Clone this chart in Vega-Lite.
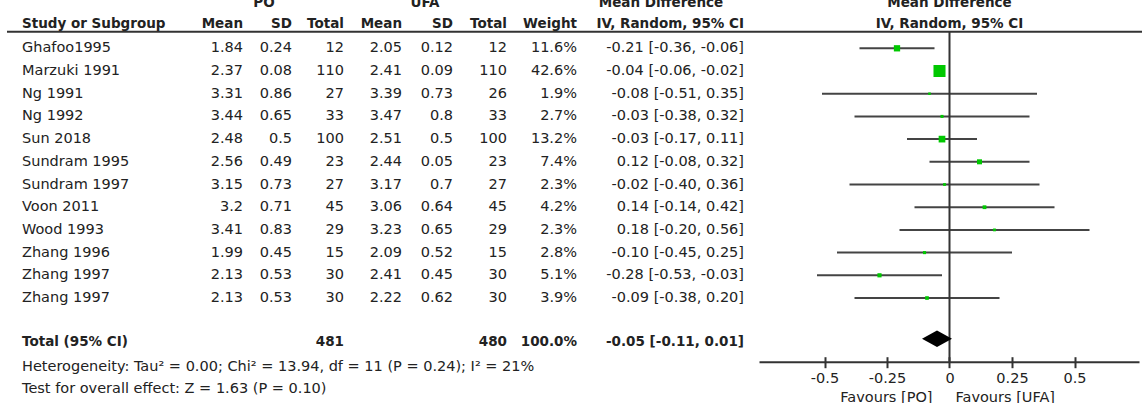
{
  "$schema": "https://vega.github.io/schema/vega-lite/v6.json",
  "padding": {"left": 6, "top": 0, "right": 0, "bottom": 0},
  "autosize": {"type": "pad"},
  "bounds": "flush",
  "spacing": 0,
  "background": "white",
  "config": {
    "font": "DejaVu Sans",
    "view": {"stroke": null},
    "text": {"font": "DejaVu Sans", "fontSize": 14.5, "color": "#222"}
  },
  "datasets": {
    "studies": [
      {"id": 1, "study": "Ghafoo1995", "m1": 1.84, "sd1": 0.24, "n1": 12, "m2": 2.05, "sd2": 0.12, "n2": 12, "w": 0.116, "md": -0.21, "lo": -0.36, "hi": -0.06, "ci": "-0.21 [-0.36, -0.06]"},
      {"id": 2, "study": "Marzuki 1991", "m1": 2.37, "sd1": 0.08, "n1": 110, "m2": 2.41, "sd2": 0.09, "n2": 110, "w": 0.426, "md": -0.04, "lo": -0.06, "hi": -0.02, "ci": "-0.04 [-0.06, -0.02]"},
      {"id": 3, "study": "Ng 1991", "m1": 3.31, "sd1": 0.86, "n1": 27, "m2": 3.39, "sd2": 0.73, "n2": 26, "w": 0.019, "md": -0.08, "lo": -0.51, "hi": 0.35, "ci": "-0.08 [-0.51, 0.35]"},
      {"id": 4, "study": "Ng 1992", "m1": 3.44, "sd1": 0.65, "n1": 33, "m2": 3.47, "sd2": 0.8, "n2": 33, "w": 0.027, "md": -0.03, "lo": -0.38, "hi": 0.32, "ci": "-0.03 [-0.38, 0.32]"},
      {"id": 5, "study": "Sun 2018", "m1": 2.48, "sd1": 0.5, "n1": 100, "m2": 2.51, "sd2": 0.5, "n2": 100, "w": 0.132, "md": -0.03, "lo": -0.17, "hi": 0.11, "ci": "-0.03 [-0.17, 0.11]"},
      {"id": 6, "study": "Sundram 1995", "m1": 2.56, "sd1": 0.49, "n1": 23, "m2": 2.44, "sd2": 0.05, "n2": 23, "w": 0.074, "md": 0.12, "lo": -0.08, "hi": 0.32, "ci": "0.12 [-0.08, 0.32]"},
      {"id": 7, "study": "Sundram 1997", "m1": 3.15, "sd1": 0.73, "n1": 27, "m2": 3.17, "sd2": 0.7, "n2": 27, "w": 0.023, "md": -0.02, "lo": -0.40, "hi": 0.36, "ci": "-0.02 [-0.40, 0.36]"},
      {"id": 8, "study": "Voon 2011", "m1": 3.2, "sd1": 0.71, "n1": 45, "m2": 3.06, "sd2": 0.64, "n2": 45, "w": 0.042, "md": 0.14, "lo": -0.14, "hi": 0.42, "ci": "0.14 [-0.14, 0.42]"},
      {"id": 9, "study": "Wood 1993", "m1": 3.41, "sd1": 0.83, "n1": 29, "m2": 3.23, "sd2": 0.65, "n2": 29, "w": 0.023, "md": 0.18, "lo": -0.20, "hi": 0.56, "ci": "0.18 [-0.20, 0.56]"},
      {"id": 10, "study": "Zhang 1996", "m1": 1.99, "sd1": 0.45, "n1": 15, "m2": 2.09, "sd2": 0.52, "n2": 15, "w": 0.028, "md": -0.10, "lo": -0.45, "hi": 0.25, "ci": "-0.10 [-0.45, 0.25]"},
      {"id": 11, "study": "Zhang 1997", "m1": 2.13, "sd1": 0.53, "n1": 30, "m2": 2.41, "sd2": 0.45, "n2": 30, "w": 0.051, "md": -0.28, "lo": -0.53, "hi": -0.03, "ci": "-0.28 [-0.53, -0.03]"},
      {"id": 12, "study": "Zhang 1997", "m1": 2.13, "sd1": 0.53, "n1": 30, "m2": 2.22, "sd2": 0.62, "n2": 30, "w": 0.039, "md": -0.09, "lo": -0.38, "hi": 0.20, "ci": "-0.09 [-0.38, 0.20]"}
    ],
    "total": [
      {"label": "Total (95% CI)", "n1": 481, "n2": 480, "w": 1.0, "md": -0.05, "lo": -0.11, "hi": 0.01, "ci": "-0.05 [-0.11, 0.01]"}
    ]
  },
  "hconcat": [
    {
      "width": 195, "height": 403,
      "layer": [
        {"data": {"name": "studies"}, "mark": {"type": "text", "align": "left", "baseline": "middle", "dx": 15},
         "encoding": {"x": {"value": 0}, "y": {"field": "id", "type": "quantitative", "scale": {"domain": [-1.128, 16.625], "reverse": true, "nice": false, "zero": false}, "axis": null}, "text": {"field": "study", "type": "nominal"}}},
        {"data": {"values": [{}]}, "mark": {"type": "text", "align": "left", "baseline": "middle", "dx": 15, "fontWeight": "bold", "fontSize": 13.5},
         "encoding": {"x": {"value": 0}, "y": {"datum": -0.07, "type": "quantitative", "axis": null}, "text": {"value": "Study or Subgroup"}}},
        {"data": {"values": [{}]}, "mark": {"type": "rule", "color": "#333", "strokeWidth": 2},
         "encoding": {"y": {"datum": 0.27, "type": "quantitative", "axis": null}}},
        {"data": {"name": "total"}, "mark": {"type": "text", "align": "left", "baseline": "middle", "dx": 15, "fontWeight": "bold", "fontSize": 13.5},
         "encoding": {"x": {"value": 0}, "y": {"datum": 13.93, "type": "quantitative", "axis": null}, "text": {"field": "label", "type": "nominal"}}},
        {"data": {"values": [{}]}, "mark": {"type": "text", "align": "left", "baseline": "middle", "dx": 15},
         "encoding": {"x": {"value": 0}, "y": {"datum": 15.05, "type": "quantitative", "axis": null}, "text": {"value": "Heterogeneity: Tau² = 0.00; Chi² = 13.94, df = 11 (P = 0.24); I² = 21%"}}},
        {"data": {"values": [{}]}, "mark": {"type": "text", "align": "left", "baseline": "middle", "dx": 15},
         "encoding": {"x": {"value": 0}, "y": {"datum": 16.02, "type": "quantitative", "axis": null}, "text": {"value": "Test for overall effect: Z = 1.63 (P = 0.10)"}}}
      ]
    },
    {
      "width": 41, "height": 403,
      "layer": [
        {"data": {"name": "studies"}, "mark": {"type": "text", "align": "right", "baseline": "middle"},
         "encoding": {"x": {"value": "width"}, "y": {"field": "id", "type": "quantitative", "scale": {"domain": [-1.128, 16.625], "reverse": true, "nice": false, "zero": false}, "axis": null}, "text": {"field": "m1", "type": "nominal"}}},
        {"data": {"values": [{}]}, "mark": {"type": "text", "align": "right", "baseline": "middle", "fontWeight": "bold", "fontSize": 13.5},
         "encoding": {"x": {"value": "width"}, "y": {"datum": -0.07, "type": "quantitative", "axis": null}, "text": {"value": "Mean"}}},
        {"data": {"values": [{}]}, "mark": {"type": "rule", "color": "#333", "strokeWidth": 2},
         "encoding": {"y": {"datum": 0.27, "type": "quantitative", "axis": null}}}
      ]
    },
    {
      "width": 49, "height": 403,
      "layer": [
        {"data": {"name": "studies"}, "mark": {"type": "text", "align": "right", "baseline": "middle"},
         "encoding": {"x": {"value": "width"}, "y": {"field": "id", "type": "quantitative", "scale": {"domain": [-1.128, 16.625], "reverse": true, "nice": false, "zero": false}, "axis": null}, "text": {"field": "sd1", "type": "nominal"}}},
        {"data": {"values": [{}]}, "mark": {"type": "text", "align": "right", "baseline": "middle", "fontWeight": "bold", "fontSize": 13.5},
         "encoding": {"x": {"value": "width"}, "y": {"datum": -0.07, "type": "quantitative", "axis": null}, "text": {"value": "SD"}}},
        {"data": {"values": [{}]}, "mark": {"type": "text", "align": "center", "baseline": "middle", "fontWeight": "bold", "fontSize": 13.5, "dx": 21, "clip": true},
         "encoding": {"x": {"value": 0}, "y": {"datum": -1, "type": "quantitative", "axis": null}, "text": {"value": "PO"}}},
        {"data": {"values": [{}]}, "mark": {"type": "rule", "color": "#333", "strokeWidth": 2},
         "encoding": {"y": {"datum": 0.27, "type": "quantitative", "axis": null}}}
      ]
    },
    {
      "width": 52, "height": 403,
      "layer": [
        {"data": {"name": "studies"}, "mark": {"type": "text", "align": "right", "baseline": "middle"},
         "encoding": {"x": {"value": "width"}, "y": {"field": "id", "type": "quantitative", "scale": {"domain": [-1.128, 16.625], "reverse": true, "nice": false, "zero": false}, "axis": null}, "text": {"field": "n1", "type": "nominal"}}},
        {"data": {"values": [{}]}, "mark": {"type": "text", "align": "right", "baseline": "middle", "fontWeight": "bold", "fontSize": 13.5},
         "encoding": {"x": {"value": "width"}, "y": {"datum": -0.07, "type": "quantitative", "axis": null}, "text": {"value": "Total"}}},
        {"data": {"values": [{}]}, "mark": {"type": "rule", "color": "#333", "strokeWidth": 2},
         "encoding": {"y": {"datum": 0.27, "type": "quantitative", "axis": null}}},
        {"data": {"name": "total"}, "mark": {"type": "text", "align": "right", "baseline": "middle", "fontWeight": "bold", "fontSize": 13.5},
         "encoding": {"x": {"value": "width"}, "y": {"datum": 13.93, "type": "quantitative", "axis": null}, "text": {"field": "n1", "type": "nominal"}}}
      ]
    },
    {
      "width": 58, "height": 403,
      "layer": [
        {"data": {"name": "studies"}, "mark": {"type": "text", "align": "right", "baseline": "middle"},
         "encoding": {"x": {"value": "width"}, "y": {"field": "id", "type": "quantitative", "scale": {"domain": [-1.128, 16.625], "reverse": true, "nice": false, "zero": false}, "axis": null}, "text": {"field": "m2", "type": "nominal"}}},
        {"data": {"values": [{}]}, "mark": {"type": "text", "align": "right", "baseline": "middle", "fontWeight": "bold", "fontSize": 13.5},
         "encoding": {"x": {"value": "width"}, "y": {"datum": -0.07, "type": "quantitative", "axis": null}, "text": {"value": "Mean"}}},
        {"data": {"values": [{}]}, "mark": {"type": "rule", "color": "#333", "strokeWidth": 2},
         "encoding": {"y": {"datum": 0.27, "type": "quantitative", "axis": null}}}
      ]
    },
    {
      "width": 51, "height": 403,
      "layer": [
        {"data": {"name": "studies"}, "mark": {"type": "text", "align": "right", "baseline": "middle"},
         "encoding": {"x": {"value": "width"}, "y": {"field": "id", "type": "quantitative", "scale": {"domain": [-1.128, 16.625], "reverse": true, "nice": false, "zero": false}, "axis": null}, "text": {"field": "sd2", "type": "nominal"}}},
        {"data": {"values": [{}]}, "mark": {"type": "text", "align": "right", "baseline": "middle", "fontWeight": "bold", "fontSize": 13.5},
         "encoding": {"x": {"value": "width"}, "y": {"datum": -0.07, "type": "quantitative", "axis": null}, "text": {"value": "SD"}}},
        {"data": {"values": [{}]}, "mark": {"type": "text", "align": "center", "baseline": "middle", "fontWeight": "bold", "fontSize": 13.5, "dx": 23, "clip": true},
         "encoding": {"x": {"value": 0}, "y": {"datum": -1, "type": "quantitative", "axis": null}, "text": {"value": "UFA"}}},
        {"data": {"values": [{}]}, "mark": {"type": "rule", "color": "#333", "strokeWidth": 2},
         "encoding": {"y": {"datum": 0.27, "type": "quantitative", "axis": null}}}
      ]
    },
    {
      "width": 54, "height": 403,
      "layer": [
        {"data": {"name": "studies"}, "mark": {"type": "text", "align": "right", "baseline": "middle"},
         "encoding": {"x": {"value": "width"}, "y": {"field": "id", "type": "quantitative", "scale": {"domain": [-1.128, 16.625], "reverse": true, "nice": false, "zero": false}, "axis": null}, "text": {"field": "n2", "type": "nominal"}}},
        {"data": {"values": [{}]}, "mark": {"type": "text", "align": "right", "baseline": "middle", "fontWeight": "bold", "fontSize": 13.5},
         "encoding": {"x": {"value": "width"}, "y": {"datum": -0.07, "type": "quantitative", "axis": null}, "text": {"value": "Total"}}},
        {"data": {"values": [{}]}, "mark": {"type": "rule", "color": "#333", "strokeWidth": 2},
         "encoding": {"y": {"datum": 0.27, "type": "quantitative", "axis": null}}},
        {"data": {"name": "total"}, "mark": {"type": "text", "align": "right", "baseline": "middle", "fontWeight": "bold", "fontSize": 13.5},
         "encoding": {"x": {"value": "width"}, "y": {"datum": 13.93, "type": "quantitative", "axis": null}, "text": {"field": "n2", "type": "nominal"}}}
      ]
    },
    {
      "width": 70, "height": 403,
      "layer": [
        {"data": {"name": "studies"}, "mark": {"type": "text", "align": "right", "baseline": "middle"},
         "encoding": {"x": {"value": "width"}, "y": {"field": "id", "type": "quantitative", "scale": {"domain": [-1.128, 16.625], "reverse": true, "nice": false, "zero": false}, "axis": null}, "text": {"field": "w", "type": "quantitative", "format": ".1%"}}},
        {"data": {"values": [{}]}, "mark": {"type": "text", "align": "right", "baseline": "middle", "fontWeight": "bold", "fontSize": 13.5},
         "encoding": {"x": {"value": "width"}, "y": {"datum": -0.07, "type": "quantitative", "axis": null}, "text": {"value": "Weight"}}},
        {"data": {"values": [{}]}, "mark": {"type": "rule", "color": "#333", "strokeWidth": 2},
         "encoding": {"y": {"datum": 0.27, "type": "quantitative", "axis": null}}},
        {"data": {"name": "total"}, "mark": {"type": "text", "align": "right", "baseline": "middle", "fontWeight": "bold", "fontSize": 13.5},
         "encoding": {"x": {"value": "width"}, "y": {"datum": 13.93, "type": "quantitative", "axis": null}, "text": {"field": "w", "type": "quantitative", "format": ".1%"}}}
      ]
    },
    {
      "width": 182, "height": 403,
      "layer": [
        {"data": {"name": "studies"}, "mark": {"type": "text", "align": "right", "baseline": "middle", "dx": -15},
         "encoding": {"x": {"value": "width"}, "y": {"field": "id", "type": "quantitative", "scale": {"domain": [-1.128, 16.625], "reverse": true, "nice": false, "zero": false}, "axis": null}, "text": {"field": "ci", "type": "nominal"}}},
        {"data": {"values": [{}]}, "mark": {"type": "text", "align": "right", "baseline": "middle", "dx": -15, "fontWeight": "bold", "fontSize": 13.5},
         "encoding": {"x": {"value": "width"}, "y": {"datum": -0.07, "type": "quantitative", "axis": null}, "text": {"value": "IV, Random, 95% CI"}}},
        {"data": {"values": [{}]}, "mark": {"type": "text", "align": "center", "baseline": "middle", "dx": -98, "fontWeight": "bold", "fontSize": 13.5, "clip": true},
         "encoding": {"x": {"value": "width"}, "y": {"datum": -1, "type": "quantitative", "axis": null}, "text": {"value": "Mean Difference"}}},
        {"data": {"values": [{}]}, "mark": {"type": "rule", "color": "#333", "strokeWidth": 2},
         "encoding": {"y": {"datum": 0.27, "type": "quantitative", "axis": null}}},
        {"data": {"name": "total"}, "mark": {"type": "text", "align": "right", "baseline": "middle", "dx": -15, "fontWeight": "bold", "fontSize": 13.5},
         "encoding": {"x": {"value": "width"}, "y": {"datum": 13.93, "type": "quantitative", "axis": null}, "text": {"field": "ci", "type": "nominal"}}}
      ]
    },
    {
      "width": 380, "height": 403,
      "resolve": {"axis": {"x": "independent"}},
      "layer": [
        {"data": {"name": "studies"}, "mark": {"type": "rule", "color": "#444", "strokeWidth": 2},
         "encoding": {
           "x": {"field": "lo", "type": "quantitative", "scale": {"domain": [-0.762, 0.758], "nice": false, "zero": false},
                 "axis": {"orient": "bottom", "offset": -41.3, "values": [-0.5, -0.25, 0, 0.25, 0.5], "format": ".2~f", "labelExpr": "replace(datum.label, '\u2212', '-')", "domainColor": "#333", "domainWidth": 2, "tickColor": "#333", "tickWidth": 2, "tickSize": 6, "labelFont": "DejaVu Sans", "labelFontSize": 14.5, "labelColor": "#222", "labelPadding": 4, "grid": false, "title": null, "labelFlush": false, "labelOverlap": false}},
           "x2": {"field": "hi"},
           "y": {"field": "id", "type": "quantitative", "scale": {"domain": [-1.128, 16.625], "reverse": true, "nice": false, "zero": false}, "axis": null}}},
        {"data": {"values": [{}]}, "mark": {"type": "rule", "color": "#333", "strokeWidth": 2},
         "encoding": {
           "x": {"datum": 0, "type": "quantitative",
                 "axis": {"orient": "bottom", "offset": -41.3, "values": [-0.5, -0.25, 0, 0.25, 0.5], "domain": false, "labels": false, "ticks": true, "tickSize": -5, "tickWidth": 2, "tickColor": "#333", "grid": false, "title": null}},
           "y": {"datum": 0.27, "type": "quantitative", "axis": null},
           "y2": {"datum": 14.806}}},
        {"data": {"values": [{}]}, "mark": {"type": "rule", "color": "#333", "strokeWidth": 2},
         "encoding": {
           "x": {"datum": -0.762, "type": "quantitative", "axis": null},
           "x2": {"datum": 0.775},
           "y": {"datum": 0.27, "type": "quantitative", "axis": null}}},
        {"data": {"name": "studies"}, "mark": {"type": "point", "shape": "square", "filled": true, "color": "#00c800", "opacity": 1},
         "encoding": {
           "x": {"field": "md", "type": "quantitative", "axis": null},
           "y": {"field": "id", "type": "quantitative", "axis": null},
           "size": {"field": "w", "type": "quantitative", "scale": {"type": "linear", "domain": [0, 0.426], "range": [0, 145]}, "legend": null}}},
        {"data": {"name": "total"}, "mark": {"type": "point", "shape": "M-1,0L0,-0.55L1,0L0,0.55Z", "filled": true, "color": "#000", "opacity": 1, "size": 900},
         "encoding": {
           "x": {"field": "md", "type": "quantitative", "axis": null},
           "y": {"datum": 13.8, "type": "quantitative", "axis": null}}},
        {"data": {"values": [{}]}, "mark": {"type": "text", "align": "center", "baseline": "middle", "fontWeight": "bold", "fontSize": 13.5, "clip": true},
         "encoding": {"x": {"datum": 0, "type": "quantitative", "axis": null}, "y": {"datum": -1, "type": "quantitative", "axis": null}, "text": {"value": "Mean Difference"}}},
        {"data": {"values": [{}]}, "mark": {"type": "text", "align": "center", "baseline": "middle", "fontWeight": "bold", "fontSize": 13.5},
         "encoding": {"x": {"datum": 0, "type": "quantitative", "axis": null}, "y": {"datum": -0.07, "type": "quantitative", "axis": null}, "text": {"value": "IV, Random, 95% CI"}}},
        {"data": {"values": [{}]}, "mark": {"type": "text", "align": "right", "baseline": "middle", "dx": -17, "clip": true},
         "encoding": {"x": {"datum": 0, "type": "quantitative", "axis": null}, "y": {"datum": 16.405, "type": "quantitative", "axis": null}, "text": {"value": "Favours [PO]"}}},
        {"data": {"values": [{}]}, "mark": {"type": "text", "align": "left", "baseline": "middle", "dx": 6, "clip": true},
         "encoding": {"x": {"datum": 0, "type": "quantitative", "axis": null}, "y": {"datum": 16.405, "type": "quantitative", "axis": null}, "text": {"value": "Favours [UFA]"}}}
      ]
    }
  ]
}
